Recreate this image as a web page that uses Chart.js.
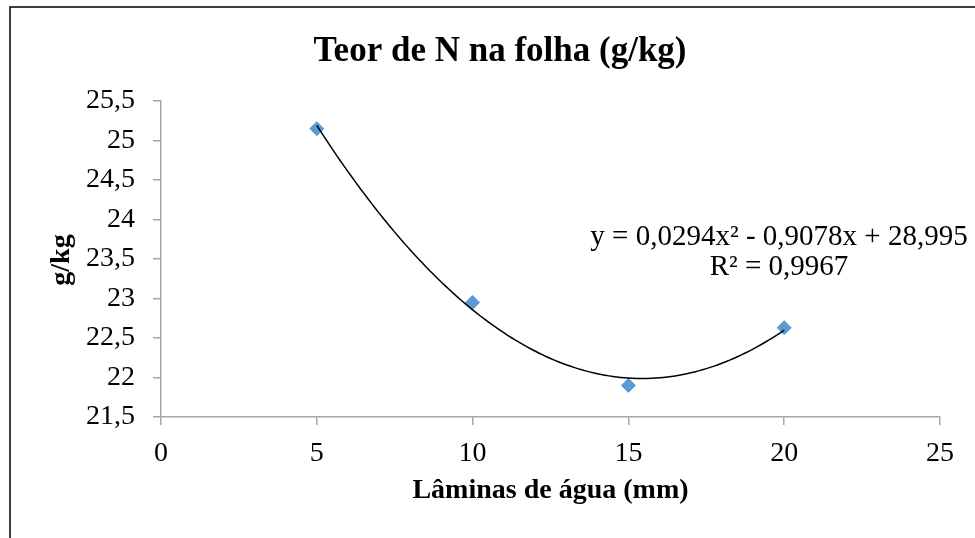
<!DOCTYPE html>
<html>
<head>
<meta charset="utf-8">
<script src="https://cdn.jsdelivr.net/npm/chart.js@4"></script>
<style>
  body { margin: 0; background: #fff; }
  canvas { display: block; }
</style>
</head>
<body>
<canvas id="chart" width="975" height="538"></canvas>
<script>
const laminas = [5, 10, 15, 20];
const teorN = [25.15, 22.95, 21.9, 22.63];
// polynomial trendline as printed on the chart: a*x^2 + b*x + c
const trendCoef = [0.0294, -0.9078, 28.995];
const trendRange = [5, 20];
const chartTitle = 'Teor de N na folha (g/kg)';
const xTitle = 'Lâminas de água (mm)';
const yTitle = 'g/kg';
const equationLines = ['y = 0,0294x² - 0,9078x + 28,995', 'R² = 0,9967'];

const serif = "'Liberation Serif', 'Times New Roman', serif";
const axisGrey = '#A6A6A6';

const fmt = v => String(Number(v.toFixed(2))).replace('.', ',');

const decorations = {
  id: 'decorations',
  beforeDraw(chart) {
    const ctx = chart.ctx;
    ctx.save();
    ctx.fillStyle = '#fff';
    ctx.fillRect(0, 0, chart.width, chart.height);
    // outer frame
    ctx.strokeStyle = '#000';
    ctx.lineWidth = 1.5;
    ctx.beginPath();
    ctx.moveTo(10, chart.height);
    ctx.lineTo(10, 7);
    ctx.lineTo(chart.width, 7);
    ctx.stroke();
    ctx.restore();
  },
  afterDatasetsDraw(chart) {
    const ctx = chart.ctx;
    const xs = chart.scales.x, ys = chart.scales.y;
    const [a, b, c] = trendCoef;
    ctx.save();
    ctx.strokeStyle = '#000';
    ctx.lineWidth = 1.5;
    ctx.beginPath();
    const steps = 120;
    for (let i = 0; i <= steps; i++) {
      const x = trendRange[0] + (trendRange[1] - trendRange[0]) * i / steps;
      const y = a * x * x + b * x + c;
      const px = xs.getPixelForValue(x), py = ys.getPixelForValue(y);
      if (i === 0) ctx.moveTo(px, py); else ctx.lineTo(px, py);
    }
    ctx.stroke();

    ctx.fillStyle = '#000';
    ctx.textAlign = 'center';
    ctx.textBaseline = 'alphabetic';
    ctx.font = 'bold 35px ' + serif;
    ctx.fillText(chartTitle, 500, 61);

    ctx.font = 'bold 28px ' + serif;
    ctx.fillText(xTitle, (chart.chartArea.left + chart.chartArea.right) / 2, 498);

    ctx.save();
    ctx.translate(62, 260);
    ctx.rotate(-Math.PI / 2);
    ctx.textBaseline = 'middle';
    ctx.fillText(yTitle, 0, 0);
    ctx.restore();

    ctx.font = '29px ' + serif;
    ctx.fillText(equationLines[0], 779, 245);
    ctx.fillText(equationLines[1], 779, 275);
    ctx.restore();
  }
};

new Chart(document.getElementById('chart'), {
  type: 'scatter',
  data: {
    datasets: [{
      label: 'Teor de N',
      data: laminas.map((x, i) => ({ x, y: teorN[i] })),
      pointStyle: 'rectRot',
      pointRadius: 7,
      pointBorderWidth: 1,
      backgroundColor: '#5B9BD5',
      borderColor: '#5B9BD5'
    }]
  },
  options: {
    responsive: false,
    animation: false,
    layout: { padding: { top: 101, right: 35, bottom: 0, left: 0 } },
    plugins: {
      legend: { display: false },
      tooltip: { enabled: false },
      title: { display: false }
    },
    scales: {
      x: {
        type: 'linear',
        min: 0,
        max: 25,
        afterFit: s => { s.height = 121; },
        ticks: {
          stepSize: 5,
          padding: 12,
          color: '#000',
          font: { family: serif, size: 28 },
          callback: v => fmt(v)
        },
        grid: { drawOnChartArea: false, drawTicks: true, tickLength: 8, color: axisGrey, lineWidth: 1.5 },
        border: { color: axisGrey, width: 1.5 }
      },
      y: {
        type: 'linear',
        min: 21.5,
        max: 25.5,
        afterFit: s => { s.width = 161; },
        ticks: {
          stepSize: 0.5,
          padding: 18,
          color: '#000',
          font: { family: serif, size: 28 },
          callback: v => fmt(v)
        },
        grid: { drawOnChartArea: false, drawTicks: true, tickLength: 8, color: axisGrey, lineWidth: 1.5 },
        border: { color: axisGrey, width: 1.5 }
      }
    }
  },
  plugins: [decorations]
});
</script>
</body>
</html>
